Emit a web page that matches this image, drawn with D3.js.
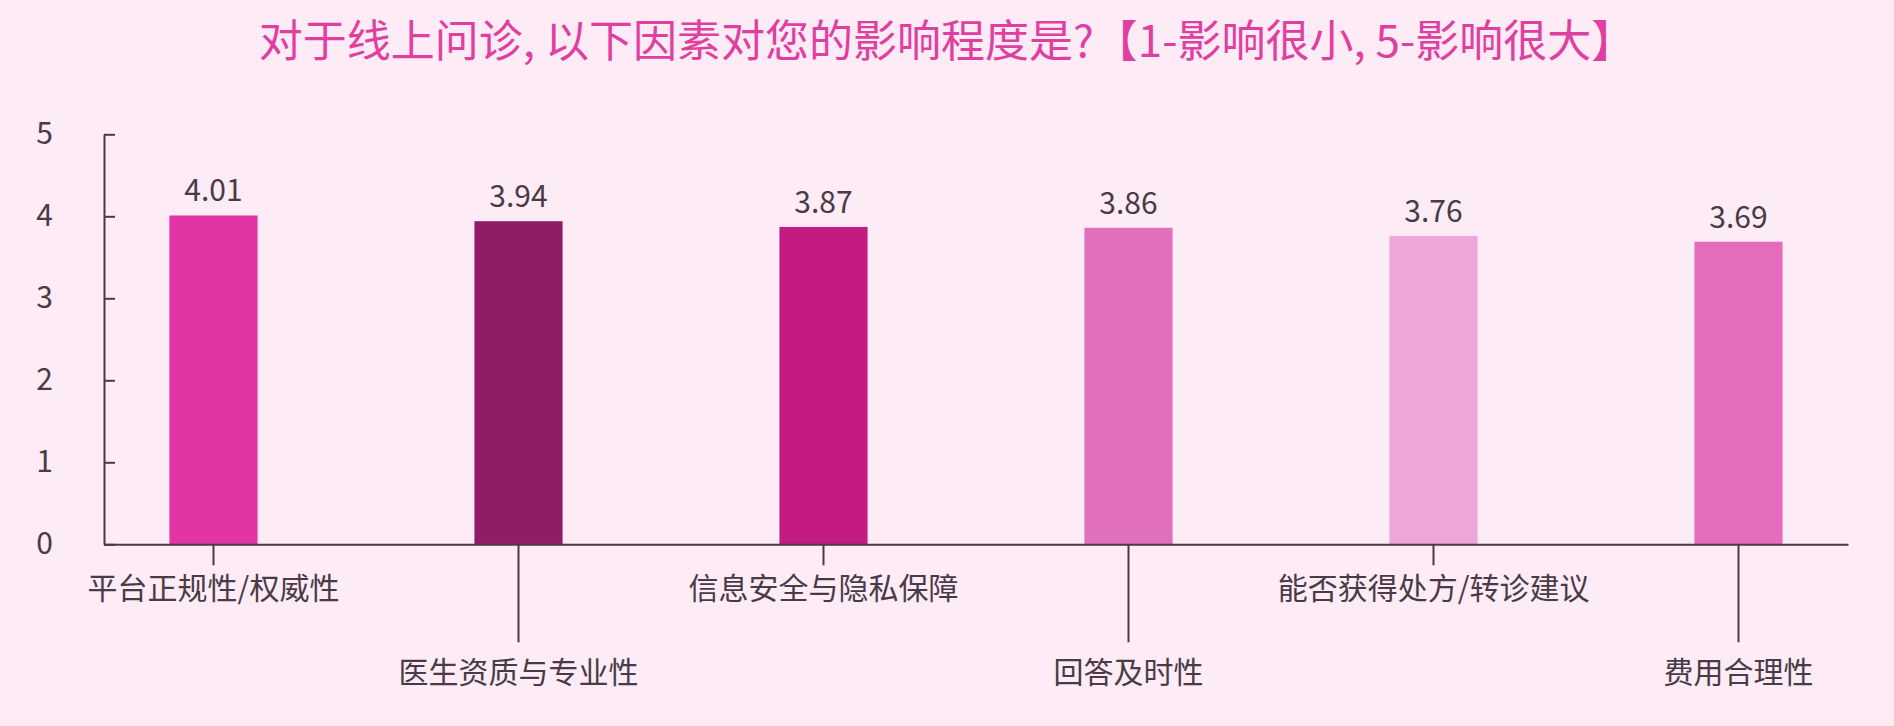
<!DOCTYPE html>
<html>
<head>
<meta charset="utf-8">
<script src="https://cdn.jsdelivr.net/npm/d3@7"></script>
<style>
    body { margin: 0; background: #fdebf6; }
    svg { display: block; font-family: "Noto Sans CJK SC", "Noto Sans", sans-serif; }
</style>
</head>
<body>
<svg id="chart" width="1894" height="726"></svg>
<script>
//Chart data
let titleText = "对于线上问诊, 以下因素对您的影响程度是?【1-影响很小, 5-影响很大】";
let categories = ["平台正规性/权威性", "医生资质与专业性", "信息安全与隐私保障", "回答及时性", "能否获得处方/转诊建议", "费用合理性"];
let scores = [4.01, 3.94, 3.87, 3.86, 3.76, 3.69];
let barColors = ["#e035a3", "#901c67", "#c41a84", "#e070be", "#eea6d9", "#e56bbc"];
let yTicks = [0, 1, 2, 3, 4, 5];

let svg = d3.select("#chart");
let textColor = "#4a3a47";

//Set Scale
let x = d3.scaleBand()
    .domain(categories)
    .range([104, 1848])
    .paddingInner(0.711)
    .paddingOuter(0.2145);

let y = d3.scaleLinear()
    .domain([0, 5])
    .range([544.3, 134.3]);

//Title
svg.append("text")
    .attr("x", 947)
    .attr("y", 57)
    .attr("text-anchor", "middle")
    .attr("font-size", "44px")
    .attr("fill", "#e03fa0")
    .text(titleText);

//Bars
svg.append("g")
    .selectAll("rect")
    .data(scores)
    .enter().append("rect")
    .attr("x", (d, i) => x(categories[i]))
    .attr("y", d => y(d))
    .attr("width", x.bandwidth())
    .attr("height", d => y(0) - y(d))
    .attr("fill", (d, i) => barColors[i]);

//Value labels
svg.append("g")
    .selectAll("text")
    .data(scores)
    .enter().append("text")
    .attr("x", (d, i) => x(categories[i]) + x.bandwidth() / 2)
    .attr("y", d => y(d) - 14)
    .attr("text-anchor", "middle")
    .attr("font-size", "30px")
    .attr("fill", textColor)
    .text(d => d.toFixed(2));

//Y axis with inward ticks
let yAxis = svg.append("g")
    .attr("transform", "translate(104,0)")
    .call(d3.axisLeft(y).tickValues(yTicks).tickFormat(d3.format("d"))
        .tickSizeInner(-11).tickSizeOuter(0).tickPadding(51));

//X axis, labels alternate between two rows
let xAxis = svg.append("g")
    .attr("transform", "translate(0," + y(0) + ")")
    .call(d3.axisBottom(x).tickSizeInner(0).tickSizeOuter(0));

xAxis.selectAll(".tick line")
    .attr("y2", (d, i) => i % 2 === 0 ? 21 : 98);

xAxis.selectAll(".tick text")
    .attr("y", (d, i) => i % 2 === 0 ? 44 : 128)
    .attr("dy", "0.35em");

[yAxis, xAxis].forEach(ax => {
    ax.select(".domain").attr("stroke", textColor).attr("stroke-width", 2);
    ax.selectAll(".tick line").attr("stroke", textColor).attr("stroke-width", 2);
    ax.selectAll(".tick text")
        .attr("fill", textColor)
        .attr("font-size", "30px")
        .attr("font-family", "\"Noto Sans CJK SC\", sans-serif");
});
yAxis.selectAll(".tick text").attr("dy", "0.3em");
</script>
</body>
</html>
